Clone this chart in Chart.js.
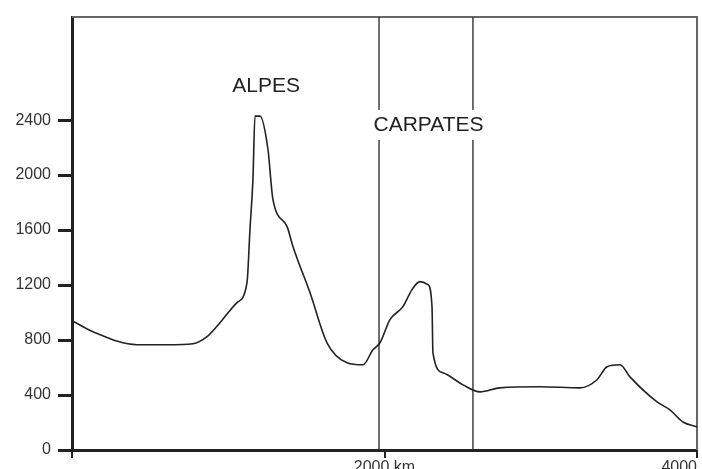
<!DOCTYPE html>
<html>
<head>
<meta charset="utf-8">
<script src="https://cdn.jsdelivr.net/npm/chart.js@4/dist/chart.umd.min.js"></script>
<style>
  html, body { margin: 0; padding: 0; background: #fff; }
  canvas { display: block; }
</style>
</head>
<body>
<canvas id="profil" width="702" height="469"></canvas>
<script>
// profil topographique : distance (km) / altitude (m)
const distanceKm = [0, 134, 416, 608, 774, 864, 947, 1056, 1120, 1139, 1158, 1171, 1203, 1254, 1286, 1376, 1414, 1523, 1632, 1760, 1862, 1926, 1971, 2035, 2118, 2176, 2227, 2278, 2304, 2310, 2374, 2502, 2611, 2739, 2995, 3251, 3360, 3424, 3507, 3571, 3744, 3827, 3910, 4000];
const altitudeM = [941, 861, 766, 766, 773, 824, 926, 1072, 1218, 1605, 1969, 2429, 2429, 2188, 1823, 1627, 1481, 1145, 780, 635, 620, 729, 780, 948, 1043, 1167, 1225, 1203, 1043, 707, 562, 474, 423, 452, 460, 452, 511, 605, 620, 532, 350, 292, 204, 168];

const yTicks = [0, 400, 800, 1200, 1600, 2000, 2400];
const xTicks = [0, 2000, 4000];
const xTickLabels = ["", "2000 km", "4000"];

// limites de la zone des Carpates
const limites = [1965, 2566];

const etiquettes = [
  { texte: "ALPES", x: 1242, y: 2648, fond: false },
  { texte: "CARPATES", x: 2282, y: 2365, fond: true }
];

const ink = "#222";
const police = "'Liberation Sans', Arial, sans-serif";

const datasets = [{
  data: distanceKm.map((d, i) => ({ x: d, y: altitudeM[i] })),
  borderColor: ink,
  borderWidth: 1.6,
  pointRadius: 0,
  cubicInterpolationMode: "monotone",
  fill: false
}];

limites.forEach(km => {
  datasets.push({
    data: [{ x: km, y: 0 }, { x: km, y: 3150 }],
    borderColor: "#333",
    borderWidth: 1.4,
    pointRadius: 0,
    fill: false
  });
});

// cadre haut/droite + noms des massifs
const decor = {
  id: "decor",
  beforeDatasetsDraw(chart) {
    const { ctx, chartArea: a } = chart;
    ctx.save();
    ctx.strokeStyle = "#666";
    ctx.lineWidth = 2;
    ctx.beginPath();
    ctx.moveTo(a.left, a.top);
    ctx.lineTo(a.right, a.top);
    ctx.lineTo(a.right, a.bottom);
    ctx.stroke();
    ctx.restore();
  },
  afterDatasetsDraw(chart) {
    const { ctx, scales } = chart;
    ctx.save();
    ctx.font = "21px " + police;
    ctx.textAlign = "center";
    ctx.textBaseline = "middle";
    etiquettes.forEach(e => {
      const px = scales.x.getPixelForValue(e.x);
      const py = scales.y.getPixelForValue(e.y);
      if (e.fond) {
        const w = ctx.measureText(e.texte).width;
        ctx.fillStyle = "#fff";
        ctx.fillRect(px - w / 2 - 3, py - 15, w + 6, 30);
      }
      ctx.fillStyle = ink;
      ctx.fillText(e.texte, px, py);
    });
    ctx.restore();
  }
};

new Chart(document.getElementById("profil"), {
  type: "line",
  data: { datasets },
  plugins: [decor],
  options: {
    responsive: false,
    devicePixelRatio: 1,
    animation: false,
    layout: { padding: { left: 0, top: 17, right: 5, bottom: 0 } },
    plugins: { legend: { display: false }, tooltip: { enabled: false } },
    scales: {
      x: {
        type: "linear",
        min: 0,
        max: 4000,
        afterBuildTicks: s => { s.ticks = xTicks.map(v => ({ value: v })); },
        afterFit: s => { s.height = 19; },
        ticks: {
          align: "inner",
          padding: 0,
          color: "#333",
          font: { family: police, size: 16 },
          callback: (v) => xTickLabels[xTicks.indexOf(v)]
        },
        grid: { drawOnChartArea: false, tickLength: 8, lineWidth: 2, color: ink },
        border: { display: true, color: ink, width: 3 }
      },
      y: {
        min: 0,
        max: 3150,
        afterBuildTicks: s => { s.ticks = yTicks.map(v => ({ value: v })); },
        afterFit: s => { s.width = 72; },
        ticks: {
          padding: 7,
          color: "#333",
          font: { family: police, size: 16 },
          callback: (v) => String(v)
        },
        grid: { drawOnChartArea: false, tickLength: 14, lineWidth: 3, color: ink },
        border: { display: true, color: ink, width: 3 }
      }
    }
  }
});
</script>
</body>
</html>
